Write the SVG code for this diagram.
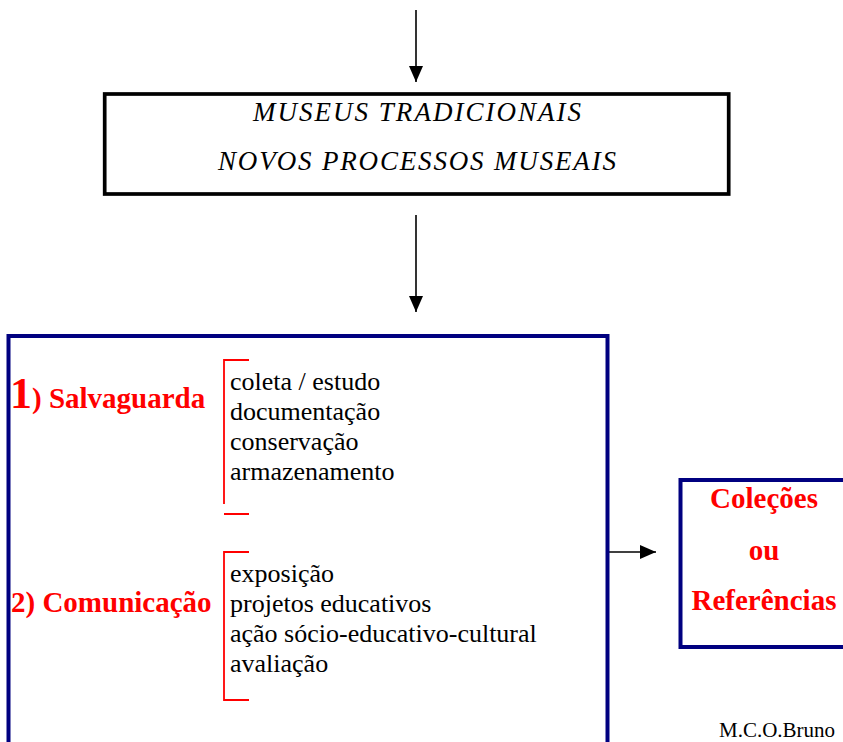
<svg xmlns="http://www.w3.org/2000/svg" width="843" height="742" viewBox="0 0 843 742">
<style>
.navy{fill:none;stroke:#000080;stroke-width:4}
.blk{fill:none;stroke:#000;stroke-width:3.7}
.conn{stroke:#000;stroke-width:1.6;fill:none}
.brk{stroke:#ff0000;stroke-width:1.8;fill:none}
.it{font-family:"Liberation Serif","Times New Roman",serif;font-style:italic;font-size:27px;fill:#000}
.lst{font-family:"Liberation Serif","Times New Roman",serif;font-size:26px;fill:#000}
.hd{font-family:"Liberation Serif","Times New Roman",serif;font-weight:bold;font-size:29px;fill:#ff0000}
.sig{font-family:"Liberation Serif","Times New Roman",serif;font-size:21px;fill:#000}
</style>
<defs>
<marker id="ah" markerUnits="userSpaceOnUse" markerWidth="16" markerHeight="14" refX="16" refY="7" orient="auto">
<path d="M0,0 L16,7 L0,14 Z" fill="#000"/>
</marker>
</defs>
<rect width="843" height="742" fill="#fff"/>
<g id="connectors">
<line class="conn" x1="416" y1="10" x2="416" y2="82" marker-end="url(#ah)"/>
<line class="conn" x1="416" y1="215" x2="416" y2="312" marker-end="url(#ah)"/>
<line class="conn" x1="609" y1="552" x2="656" y2="552" marker-end="url(#ah)"/>
</g>
<g id="museus">
<rect class="blk" x="104.7" y="94" width="624" height="100"/>
<text class="it" x="253" y="121" textLength="328" lengthAdjust="spacing">MUSEUS TRADICIONAIS</text>
<text class="it" x="218" y="170" textLength="398" lengthAdjust="spacing">NOVOS PROCESSOS MUSEAIS</text>
</g>
<g id="processos">
<rect class="navy" x="8.5" y="336" width="599" height="430"/>
<text class="hd" x="10" y="408"><tspan font-size="44">1</tspan>) Salvaguarda</text>
<path class="brk" d="M249,360 H224 V504 M224,514 H249"/>
<text class="lst" x="230" y="390">coleta / estudo</text>
<text class="lst" x="230" y="420">documentação</text>
<text class="lst" x="230" y="450">conservação</text>
<text class="lst" x="230" y="480">armazenamento</text>
<text class="hd" x="11" y="612">2) Comunicação</text>
<path class="brk" d="M249,552 H224 V700 H249"/>
<text class="lst" x="230" y="582">exposição</text>
<text class="lst" x="230" y="612">projetos educativos</text>
<text class="lst" x="230" y="642">ação sócio-educativo-cultural</text>
<text class="lst" x="230" y="672">avaliação</text>
</g>
<g id="colecoes">
<rect class="navy" x="680.5" y="480" width="200" height="167"/>
<text class="hd" x="764" y="508" text-anchor="middle">Coleções</text>
<text class="hd" x="764" y="560" text-anchor="middle">ou</text>
<text class="hd" x="764" y="610" text-anchor="middle">Referências</text>
</g>
<text class="sig" x="719" y="737">M.C.O.Bruno</text>
</svg>
